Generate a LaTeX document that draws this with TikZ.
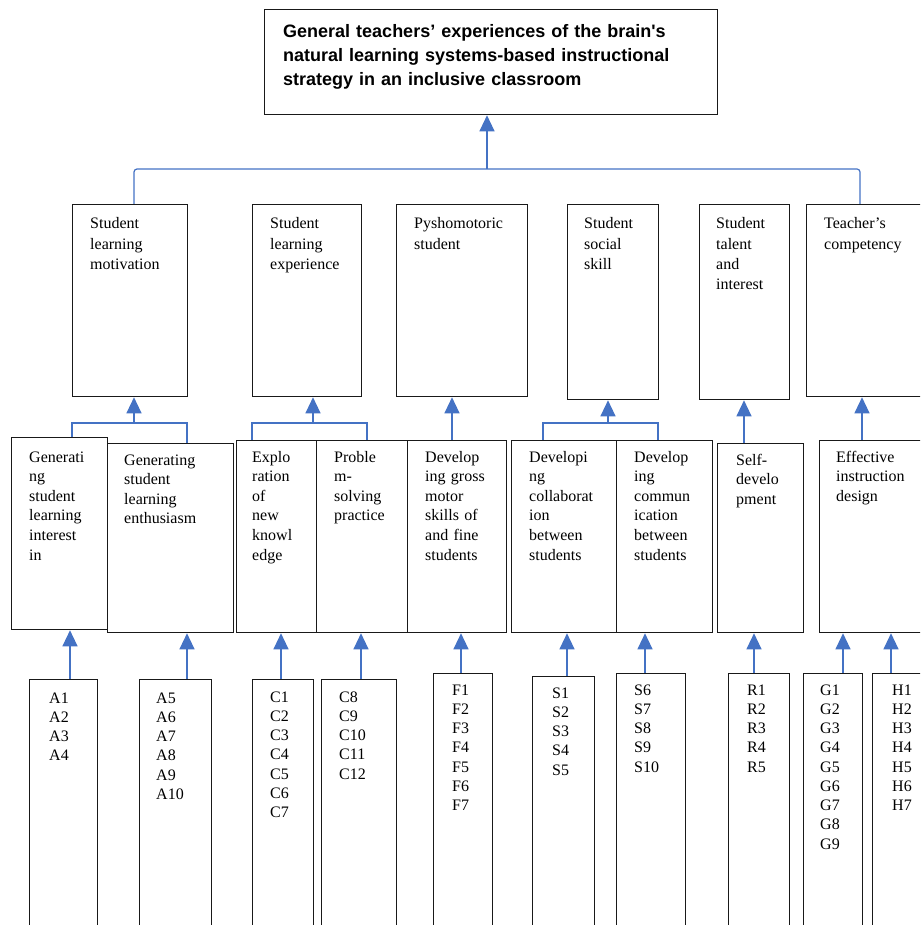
\documentclass[tikz,border=0pt]{standalone}
\usepackage{fontspec}
\setmainfont{Liberation Serif}
\newfontfamily\titlefont{Liberation Sans}
\usetikzlibrary{arrows.meta}
\definecolor{cblue}{HTML}{4472C4}
\tikzset{
  box/.style={draw=black!90, line width=1.3pt, inner sep=0pt, anchor=north west, fill=none},
  txt/.style={anchor=base west, inner sep=0pt, text width=200pt, align=left},
  lvtwo/.style={txt, font=\fontsize{16}{20.2}\selectfont},
  lvthree/.style={txt, font=\fontsize{16}{19.6}\selectfont},
  lvfour/.style={txt, font=\fontsize{16}{19.25}\selectfont},
  conn/.style={draw=cblue, line width=1.2pt},
  arr/.style={conn, -{Triangle[width=15pt,length=16pt]}}
}
\newcommand\mybox[5]{\node[box, minimum width={(#4-#2)*1pt}, minimum height={(#5-#3)*1pt}] (#1) at (#2,#3) {};}
\begin{document}
\begin{tikzpicture}[x=1pt,y=-1pt]
\useasboundingbox (0,0) rectangle (920,925);
\clip (0,0) rectangle (920,925);
% ---------- boxes ----------
\mybox{T}{264}{9}{717}{114}
\mybox{a1}{72}{204}{187}{396}
\mybox{a2}{252}{204}{361}{396}
\mybox{a3}{396}{204}{527}{396}
\mybox{a4}{567}{204}{658}{399}
\mybox{a5}{699}{204}{789}{399}
\mybox{a6}{806}{204}{940}{396}
\mybox{b1}{11}{437}{107}{629}
\mybox{b2}{107}{443}{233}{632}
\mybox{b3}{236}{440}{316}{632}
\mybox{b4}{316}{440}{407}{632}
\mybox{b5}{407}{440}{506}{632}
\mybox{b6}{511}{440}{616}{632}
\mybox{b7}{616}{440}{712}{632}
\mybox{b8}{717}{443}{803}{632}
\mybox{b9}{819}{440}{940}{632}
\mybox{c1}{29}{679}{97}{940}
\mybox{c2}{139}{679}{211}{940}
\mybox{c3}{252}{679}{313}{940}
\mybox{c4}{321}{679}{396}{940}
\mybox{c5}{433}{673}{492}{940}
\mybox{c6}{532}{676}{594}{940}
\mybox{c7}{616}{673}{685}{940}
\mybox{c8}{728}{673}{789}{940}
\mybox{c9}{803}{673}{862}{940}
\mybox{c10}{872}{673}{940}{940}
% ---------- texts ----------
\node[txt, text width=420pt, font=\titlefont\bfseries\fontsize{18}{24}\selectfont] (tT) at (283,38)
  {General teachers’ experiences of the brain\textquotesingle s\\natural learning systems-based instructional\\strategy in an inclusive classroom};
\node[lvtwo] (ta1) at (90,229) {Student\\learning\\motivation};
\node[lvtwo] (ta2) at (270,229) {Student\\learning\\experience};
\node[lvtwo] (ta3) at (414,229) {Pyshomotoric\\student};
\node[lvtwo] (ta4) at (584,229) {Student\\social\\skill};
\node[lvtwo] (ta5) at (716,229) {Student\\talent\\and\\interest};
\node[lvtwo] (ta6) at (824,229) {Teacher’s\\competency};
\node[lvthree] (tb1) at (29,462) {Generati\\ng\\student\\learning\\interest\\in};
\node[lvthree] (tb2) at (124,465) {Generating\\student\\learning\\enthusiasm};
\node[lvthree] (tb3) at (252,462) {Explo\\ration\\of\\new\\knowl\\edge};
\node[lvthree] (tb4) at (334,462) {Proble\\m-\\solving\\practice};
\node[lvthree] (tb5) at (425,462) {Develop\\ing gross\\motor\\skills of\\and fine\\students};
\node[lvthree] (tb6) at (529,462) {Developi\\ng\\collaborat\\ion\\between\\students};
\node[lvthree] (tb7) at (634,462) {Develop\\ing\\commun\\ication\\between\\students};
\node[lvthree] (tb8) at (736,465) {Self-\\develo\\pment};
\node[lvthree] (tb9) at (836,462) {Effective\\instruction\\design};
\node[lvfour] (tc1) at (49,703) {A1\\A2\\A3\\A4};
\node[lvfour] (tc2) at (156,703) {A5\\A6\\A7\\A8\\A9\\A10};
\node[lvfour] (tc3) at (270,702) {C1\\C2\\C3\\C4\\C5\\C6\\C7};
\node[lvfour] (tc4) at (339,702) {C8\\C9\\C10\\C11\\C12};
\node[lvfour] (tc5) at (452,695) {F1\\F2\\F3\\F4\\F5\\F6\\F7};
\node[lvfour] (tc6) at (552,698) {S1\\S2\\S3\\S4\\S5};
\node[lvfour] (tc7) at (634,695) {S6\\S7\\S8\\S9\\S10};
\node[lvfour] (tc8) at (747,695) {R1\\R2\\R3\\R4\\R5};
\node[lvfour] (tc9) at (820,695) {G1\\G2\\G3\\G4\\G5\\G6\\G7\\G8\\G9};
\node[lvfour] (tc10) at (892,695) {H1\\H2\\H3\\H4\\H5\\H6\\H7};
% ---------- top connectors ----------
\coordinate (j0) at (487,169);
\coordinate (m1) at (134,169);
\coordinate (m2) at (860,169);
\draw[conn, rounded corners=3pt] (a1.north -| m1) -- (m1) -- (m2) -- (a6.north -| m2);
\draw[arr] (j0) -- (T.south -| j0);
% ---------- level 3 -> level 2 ----------
\coordinate (kl1) at (72,423); \coordinate (kr1) at (187,423); \coordinate (k1) at (134,423);
\draw[conn] (b1.north -| kl1) -- (kl1) -- (kr1) -- (b2.north -| kr1);
\draw[arr] (k1) -- (a1.south -| k1);
\coordinate (kl2) at (252,423); \coordinate (kr2) at (367,423); \coordinate (k2) at (313,423);
\draw[conn] (b3.north -| kl2) -- (kl2) -- (kr2) -- (b4.north -| kr2);
\draw[arr] (k2) -- (a2.south -| k2);
\coordinate (k3) at (452,420);
\draw[arr] (b5.north -| k3) -- (a3.south -| k3);
\coordinate (kl4) at (543,423); \coordinate (kr4) at (658,423); \coordinate (k4) at (608,423);
\draw[conn] (b6.north -| kl4) -- (kl4) -- (kr4) -- (b7.north -| kr4);
\draw[arr] (k4) -- (a4.south -| k4);
\coordinate (k5) at (744,420);
\draw[arr] (b8.north -| k5) -- (a5.south -| k5);
\coordinate (k6) at (862,420);
\draw[arr] (b9.north -| k6) -- (a6.south -| k6);
% ---------- bottom -> level 3 ----------
\coordinate (q1) at (70,660);
\coordinate (q2) at (187,660);
\coordinate (q3) at (281,660);
\coordinate (q4) at (361,660);
\coordinate (q5) at (461,660);
\coordinate (q6) at (567,660);
\coordinate (q7) at (645,660);
\coordinate (q8) at (754,660);
\coordinate (q9) at (843,660);
\coordinate (q10) at (891,660);
\draw[arr] (c1.north -| q1) -- (b1.south -| q1);
\draw[arr] (c2.north -| q2) -- (b2.south -| q2);
\draw[arr] (c3.north -| q3) -- (b3.south -| q3);
\draw[arr] (c4.north -| q4) -- (b4.south -| q4);
\draw[arr] (c5.north -| q5) -- (b5.south -| q5);
\draw[arr] (c6.north -| q6) -- (b6.south -| q6);
\draw[arr] (c7.north -| q7) -- (b7.south -| q7);
\draw[arr] (c8.north -| q8) -- (b8.south -| q8);
\draw[arr] (c9.north -| q9) -- (b9.south -| q9);
\draw[arr] (c10.north -| q10) -- (b9.south -| q10);
\end{tikzpicture}
\end{document}
